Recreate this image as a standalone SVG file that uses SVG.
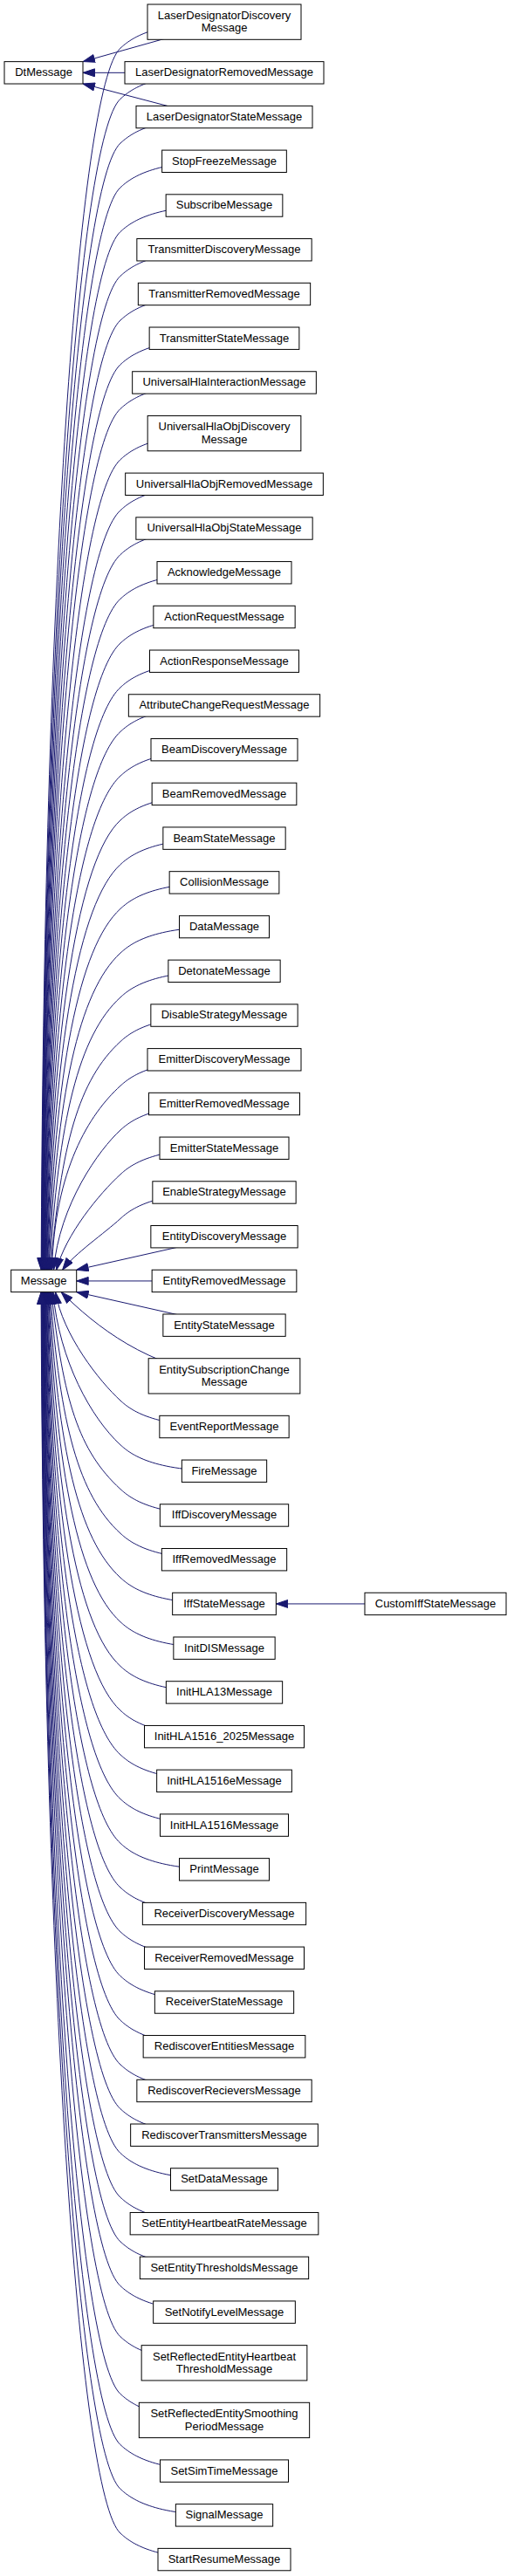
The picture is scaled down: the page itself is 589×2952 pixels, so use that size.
<svg xmlns="http://www.w3.org/2000/svg" width="589" height="2952" viewBox="0 0 589 2952">
<defs>
<style>
.n rect{fill:#fff;stroke:#000;stroke-width:1}
.n text{font-family:"Liberation Sans",Arial,sans-serif;font-size:13px;text-anchor:middle;fill:#000}
</style>
<marker id="arr" viewBox="0 0 14 10" markerWidth="14" markerHeight="10" refX="14" refY="5" orient="auto" markerUnits="userSpaceOnUse"><path d="M0.5,0.5 L14,5 L0.5,9.5 Z" fill="#191970" stroke="#191970" stroke-width="1"/></marker>
</defs>
<rect width="589" height="2952" fill="#fff"/>
<g id="connectors" fill="none" stroke="#191970" stroke-width="1" marker-end="url(#arr)">
<path d="M257,25.15 L95,70.63"/>
<path d="M143,83.33 L95,83.33"/>
<path d="M191.7,121.36 L95,96.03"/>
<path d="M257,25.15 C175,25.15 150,44.15 138,55.15 C90,99.15 49.6,685.2 47.2,1455.24"/>
<path d="M257,83.33 C175,83.33 150,102.33 138,113.33 C90,157.33 50.2,717.2 47.6,1455.24"/>
<path d="M257,134.06 C175,134.06 150,153.06 138,164.06 C90,208.06 50.5,745.1 47.9,1455.24"/>
<path d="M257,184.79 C175,184.79 150,203.79 138,214.79 C90,258.79 51,773 48.2,1455.24"/>
<path d="M257,235.52 C175,235.52 150,254.52 138,265.52 C90,309.52 51.5,800.9 48.6,1455.24"/>
<path d="M257,286.25 C175,286.25 150,305.25 138,316.25 C90,360.25 51.9,828.8 48.9,1455.24"/>
<path d="M257,336.98 C175,336.98 150,355.98 138,366.98 C90,410.98 52.4,856.7 49.3,1455.24"/>
<path d="M257,387.71 C175,387.71 150,406.71 138,417.71 C90,461.71 52.9,884.6 49.6,1455.24"/>
<path d="M257,438.44 C175,438.44 150,457.44 138,468.44 C90,512.44 53.4,912.5 50,1455.24"/>
<path d="M257,496.62 C175,496.62 150,515.62 138,526.62 C90,570.62 54.1,944.5 50.4,1455.24"/>
<path d="M257,554.8 C175,554.8 150,573.8 138,584.8 C90,628.8 54.7,976.5 50.8,1455.24"/>
<path d="M257,605.53 C175,605.53 150,624.53 138,635.53 C90,679.53 55.3,1004.4 51.2,1455.24"/>
<path d="M257,656.26 C175,656.26 150,675.26 138,686.26 C90,730.26 56,1032.3 51.6,1455.24"/>
<path d="M257,706.99 C175,706.99 150,725.99 138,736.99 C90,780.99 56.7,1060.2 52,1455.24"/>
<path d="M257,757.72 C175,757.72 150,776.72 138,787.72 C90,831.72 57.4,1088.1 52.4,1455.24"/>
<path d="M257,808.45 C175,808.45 150,827.45 138,838.45 C90,882.45 58.3,1116 52.9,1455.24"/>
<path d="M257,859.18 C175,859.18 150,878.18 138,889.18 C90,933.18 59.3,1143.9 53.4,1455.24"/>
<path d="M257,909.91 C175,909.91 150,928.91 138,939.91 C90,983.91 60.3,1171.8 53.9,1455.24"/>
<path d="M257,960.64 C175,960.64 150,979.64 138,990.64 C90,1034.64 61.6,1199.7 54.5,1455.24"/>
<path d="M257,1011.37 C175,1011.37 150,1030.37 138,1041.37 C90,1085.37 63.1,1227.6 55.2,1455.24"/>
<path d="M257,1062.1 C175,1062.1 150,1081.1 138,1092.1 C90,1136.1 64.8,1255.5 55.9,1455.24"/>
<path d="M257,1112.83 C175,1112.83 150,1131.83 138,1142.83 C90,1186.83 67,1283.4 56.8,1455.24"/>
<path d="M257,1163.56 C175,1163.56 150,1182.56 138,1193.56 C90,1237.56 69.9,1311.3 57.9,1455.24"/>
<path d="M257,1214.29 C175,1214.29 150,1233.29 138,1244.29 C102,1277 63,1340 59.3,1455.24"/>
<path d="M257,1265.02 C175,1265.02 150,1284.02 138,1295.02 C114,1317 68,1380 61.4,1455.24"/>
<path d="M257,1315.75 C175,1315.75 150,1334.75 138,1345.75 C114,1367.75 75,1415 64.7,1455.24"/>
<path d="M257,1366.48 C175,1366.48 150,1385.48 138,1396.48 C120,1413 85,1437 71.6,1455.24"/>
<path d="M257,1417.21 L87.7,1455.24"/>
<path d="M174.15,1467.94 L87.7,1467.94"/>
<path d="M257,1518.67 L87.7,1480.64"/>
<path d="M257,1576.85 C170,1568 110,1520 70.1,1480.64"/>
<path d="M257,1635.03 C175,1635.03 150,1616.03 138,1605.03 C114,1583 72,1530 63.5,1480.64"/>
<path d="M257,1685.76 C175,1685.76 150,1666.76 138,1655.76 C105,1625.5 68,1560 60.7,1480.64"/>
<path d="M257,1736.49 C175,1736.49 150,1717.49 138,1706.49 C90,1662.49 72.5,1604.9 58.8,1480.64"/>
<path d="M257,1787.22 C175,1787.22 150,1768.22 138,1757.22 C90,1713.22 68.9,1632.8 57.5,1480.64"/>
<path d="M257,1837.95 C175,1837.95 150,1818.95 138,1807.95 C90,1763.95 66.3,1660.7 56.5,1480.64"/>
<path d="M257,1888.68 C175,1888.68 150,1869.68 138,1858.68 C90,1814.68 64.3,1688.5 55.7,1480.64"/>
<path d="M257,1939.41 C175,1939.41 150,1920.41 138,1909.41 C90,1865.41 62.6,1716.5 55,1480.64"/>
<path d="M257,1990.14 C175,1990.14 150,1971.14 138,1960.14 C90,1916.14 61.2,1744.4 54.3,1480.64"/>
<path d="M257,2040.87 C175,2040.87 150,2021.87 138,2010.87 C90,1966.87 60,1772.2 53.8,1480.64"/>
<path d="M257,2091.6 C175,2091.6 150,2072.6 138,2061.6 C90,2017.6 59,1800.2 53.3,1480.64"/>
<path d="M257,2142.33 C175,2142.33 150,2123.33 138,2112.33 C90,2068.33 58.1,1828.1 52.8,1480.64"/>
<path d="M257,2193.06 C175,2193.06 150,2174.06 138,2163.06 C90,2119.06 57.2,1855.9 52.3,1480.64"/>
<path d="M257,2243.79 C175,2243.79 150,2224.79 138,2213.79 C90,2169.79 56.5,1883.9 51.9,1480.64"/>
<path d="M257,2294.52 C175,2294.52 150,2275.52 138,2264.52 C90,2220.52 55.8,1911.8 51.5,1480.64"/>
<path d="M257,2345.25 C175,2345.25 150,2326.25 138,2315.25 C90,2271.25 55.1,1939.7 51.1,1480.64"/>
<path d="M257,2395.98 C175,2395.98 150,2376.98 138,2365.98 C90,2321.98 54.5,1967.5 50.7,1480.64"/>
<path d="M257,2446.71 C175,2446.71 150,2427.71 138,2416.71 C90,2372.71 53.9,1995.5 50.3,1480.64"/>
<path d="M257,2497.44 C175,2497.44 150,2478.44 138,2467.44 C90,2423.44 53.4,2023.4 50,1480.64"/>
<path d="M257,2548.17 C175,2548.17 150,2529.17 138,2518.17 C90,2474.17 52.9,2051.3 49.6,1480.64"/>
<path d="M257,2598.9 C175,2598.9 150,2579.9 138,2568.9 C90,2524.9 52.4,2079.2 49.3,1480.64"/>
<path d="M257,2649.63 C175,2649.63 150,2630.63 138,2619.63 C90,2575.63 51.9,2107.1 48.9,1480.64"/>
<path d="M257,2707.81 C175,2707.81 150,2688.81 138,2677.81 C90,2633.81 51.4,2139.1 48.5,1480.64"/>
<path d="M257,2773.44 C175,2773.44 150,2754.44 138,2743.44 C90,2699.44 50.8,2175.2 48.1,1480.64"/>
<path d="M257,2831.62 C175,2831.62 150,2812.62 138,2801.62 C90,2757.62 50.3,2207.2 47.7,1480.64"/>
<path d="M257,2882.35 C175,2882.35 150,2863.35 138,2852.35 C90,2808.35 49.9,2235 47.4,1480.64"/>
<path d="M257,2933.08 C175,2933.08 150,2914.08 138,2903.08 C90,2859.08 49.5,2262.9 47.1,1480.64"/>
<path d="M418,1837.95 L316.35,1837.95"/>
</g>
<g id="nodes">
<g id="DtMessage" class="n"><rect x="5" y="70.63" width="90" height="25.4"/><text x="50" y="87.23">DtMessage</text></g>
<g id="Message" class="n"><rect x="12.7" y="1455.24" width="75" height="25.4"/><text x="50.2" y="1471.84">Message</text></g>
<g id="CustomIffStateMessage" class="n"><rect x="418" y="1825.25" width="162" height="25.4"/><text x="499" y="1841.85">CustomIffStateMessage</text></g>
<g id="LaserDesignatorDiscoveryMessage" class="n"><rect x="169" y="5" width="176" height="40.3"/><text x="257" y="21.9">LaserDesignatorDiscovery</text><text x="257" y="36.4">Message</text></g>
<g id="LaserDesignatorRemovedMessage" class="n"><rect x="143" y="70.63" width="228" height="25.4"/><text x="257" y="87.23">LaserDesignatorRemovedMessage</text></g>
<g id="LaserDesignatorStateMessage" class="n"><rect x="156" y="121.36" width="202" height="25.4"/><text x="257" y="137.96">LaserDesignatorStateMessage</text></g>
<g id="StopFreezeMessage" class="n"><rect x="185.65" y="172.09" width="142.7" height="25.4"/><text x="257" y="188.69">StopFreezeMessage</text></g>
<g id="SubscribeMessage" class="n"><rect x="190.15" y="222.82" width="133.7" height="25.4"/><text x="257" y="239.42">SubscribeMessage</text></g>
<g id="TransmitterDiscoveryMessage" class="n"><rect x="156.85" y="273.55" width="200.3" height="25.4"/><text x="257" y="290.15">TransmitterDiscoveryMessage</text></g>
<g id="TransmitterRemovedMessage" class="n"><rect x="158.35" y="324.28" width="197.3" height="25.4"/><text x="257" y="340.88">TransmitterRemovedMessage</text></g>
<g id="TransmitterStateMessage" class="n"><rect x="171.15" y="375.01" width="171.7" height="25.4"/><text x="257" y="391.61">TransmitterStateMessage</text></g>
<g id="UniversalHlaInteractionMessage" class="n"><rect x="151.65" y="425.74" width="210.7" height="25.4"/><text x="257" y="442.34">UniversalHlaInteractionMessage</text></g>
<g id="UniversalHlaObjDiscoveryMessage" class="n"><rect x="169.15" y="476.47" width="175.7" height="40.3"/><text x="257" y="493.37">UniversalHlaObjDiscovery</text><text x="257" y="507.87">Message</text></g>
<g id="UniversalHlaObjRemovedMessage" class="n"><rect x="143.65" y="542.1" width="226.7" height="25.4"/><text x="257" y="558.7">UniversalHlaObjRemovedMessage</text></g>
<g id="UniversalHlaObjStateMessage" class="n"><rect x="155.85" y="592.83" width="202.3" height="25.4"/><text x="257" y="609.43">UniversalHlaObjStateMessage</text></g>
<g id="AcknowledgeMessage" class="n"><rect x="180" y="643.56" width="154" height="25.4"/><text x="257" y="660.16">AcknowledgeMessage</text></g>
<g id="ActionRequestMessage" class="n"><rect x="175.85" y="694.29" width="162.3" height="25.4"/><text x="257" y="710.89">ActionRequestMessage</text></g>
<g id="ActionResponseMessage" class="n"><rect x="171.5" y="745.02" width="171" height="25.4"/><text x="257" y="761.62">ActionResponseMessage</text></g>
<g id="AttributeChangeRequestMessage" class="n"><rect x="147.35" y="795.75" width="219.3" height="25.4"/><text x="257" y="812.35">AttributeChangeRequestMessage</text></g>
<g id="BeamDiscoveryMessage" class="n"><rect x="173" y="846.48" width="168" height="25.4"/><text x="257" y="863.08">BeamDiscoveryMessage</text></g>
<g id="BeamRemovedMessage" class="n"><rect x="174.15" y="897.21" width="165.7" height="25.4"/><text x="257" y="913.81">BeamRemovedMessage</text></g>
<g id="BeamStateMessage" class="n"><rect x="186.85" y="947.94" width="140.3" height="25.4"/><text x="257" y="964.54">BeamStateMessage</text></g>
<g id="CollisionMessage" class="n"><rect x="194.15" y="998.67" width="125.7" height="25.4"/><text x="257" y="1015.27">CollisionMessage</text></g>
<g id="DataMessage" class="n"><rect x="205.5" y="1049.4" width="103" height="25.4"/><text x="257" y="1066">DataMessage</text></g>
<g id="DetonateMessage" class="n"><rect x="192.85" y="1100.13" width="128.3" height="25.4"/><text x="257" y="1116.73">DetonateMessage</text></g>
<g id="DisableStrategyMessage" class="n"><rect x="172.85" y="1150.86" width="168.3" height="25.4"/><text x="257" y="1167.46">DisableStrategyMessage</text></g>
<g id="EmitterDiscoveryMessage" class="n"><rect x="169" y="1201.59" width="176" height="25.4"/><text x="257" y="1218.19">EmitterDiscoveryMessage</text></g>
<g id="EmitterRemovedMessage" class="n"><rect x="170.5" y="1252.32" width="173" height="25.4"/><text x="257" y="1268.92">EmitterRemovedMessage</text></g>
<g id="EmitterStateMessage" class="n"><rect x="183" y="1303.05" width="148" height="25.4"/><text x="257" y="1319.65">EmitterStateMessage</text></g>
<g id="EnableStrategyMessage" class="n"><rect x="174.85" y="1353.78" width="164.3" height="25.4"/><text x="257" y="1370.38">EnableStrategyMessage</text></g>
<g id="EntityDiscoveryMessage" class="n"><rect x="172.85" y="1404.51" width="168.3" height="25.4"/><text x="257" y="1421.11">EntityDiscoveryMessage</text></g>
<g id="EntityRemovedMessage" class="n"><rect x="174.15" y="1455.24" width="165.7" height="25.4"/><text x="257" y="1471.84">EntityRemovedMessage</text></g>
<g id="EntityStateMessage" class="n"><rect x="186.85" y="1505.97" width="140.3" height="25.4"/><text x="257" y="1522.57">EntityStateMessage</text></g>
<g id="EntitySubscriptionChangeMessage" class="n"><rect x="170.15" y="1556.7" width="173.7" height="40.3"/><text x="257" y="1573.6">EntitySubscriptionChange</text><text x="257" y="1588.1">Message</text></g>
<g id="EventReportMessage" class="n"><rect x="182.85" y="1622.33" width="148.3" height="25.4"/><text x="257" y="1638.93">EventReportMessage</text></g>
<g id="FireMessage" class="n"><rect x="208.35" y="1673.06" width="97.3" height="25.4"/><text x="257" y="1689.66">FireMessage</text></g>
<g id="IffDiscoveryMessage" class="n"><rect x="183.35" y="1723.79" width="147.3" height="25.4"/><text x="257" y="1740.39">IffDiscoveryMessage</text></g>
<g id="IffRemovedMessage" class="n"><rect x="185.35" y="1774.52" width="143.3" height="25.4"/><text x="257" y="1791.12">IffRemovedMessage</text></g>
<g id="IffStateMessage" class="n"><rect x="197.65" y="1825.25" width="118.7" height="25.4"/><text x="257" y="1841.85">IffStateMessage</text></g>
<g id="InitDISMessage" class="n"><rect x="198.85" y="1875.98" width="116.3" height="25.4"/><text x="257" y="1892.58">InitDISMessage</text></g>
<g id="InitHLA13Message" class="n"><rect x="190.35" y="1926.71" width="133.3" height="25.4"/><text x="257" y="1943.31">InitHLA13Message</text></g>
<g id="InitHLA1516_2025Message" class="n"><rect x="165.5" y="1977.44" width="183" height="25.4"/><text x="257" y="1994.04">InitHLA1516_2025Message</text></g>
<g id="InitHLA1516eMessage" class="n"><rect x="179.65" y="2028.17" width="154.7" height="25.4"/><text x="257" y="2044.77">InitHLA1516eMessage</text></g>
<g id="InitHLA1516Message" class="n"><rect x="183.5" y="2078.9" width="147" height="25.4"/><text x="257" y="2095.5">InitHLA1516Message</text></g>
<g id="PrintMessage" class="n"><rect x="205.5" y="2129.63" width="103" height="25.4"/><text x="257" y="2146.23">PrintMessage</text></g>
<g id="ReceiverDiscoveryMessage" class="n"><rect x="163.35" y="2180.36" width="187.3" height="25.4"/><text x="257" y="2196.96">ReceiverDiscoveryMessage</text></g>
<g id="ReceiverRemovedMessage" class="n"><rect x="165.5" y="2231.09" width="183" height="25.4"/><text x="257" y="2247.69">ReceiverRemovedMessage</text></g>
<g id="ReceiverStateMessage" class="n"><rect x="177.35" y="2281.82" width="159.3" height="25.4"/><text x="257" y="2298.42">ReceiverStateMessage</text></g>
<g id="RediscoverEntitiesMessage" class="n"><rect x="164.15" y="2332.55" width="185.7" height="25.4"/><text x="257" y="2349.15">RediscoverEntitiesMessage</text></g>
<g id="RediscoverRecieversMessage" class="n"><rect x="156.85" y="2383.28" width="200.3" height="25.4"/><text x="257" y="2399.88">RediscoverRecieversMessage</text></g>
<g id="RediscoverTransmittersMessage" class="n"><rect x="149.65" y="2434.01" width="214.7" height="25.4"/><text x="257" y="2450.61">RediscoverTransmittersMessage</text></g>
<g id="SetDataMessage" class="n"><rect x="195.5" y="2484.74" width="123" height="25.4"/><text x="257" y="2501.34">SetDataMessage</text></g>
<g id="SetEntityHeartbeatRateMessage" class="n"><rect x="149.15" y="2535.47" width="215.7" height="25.4"/><text x="257" y="2552.07">SetEntityHeartbeatRateMessage</text></g>
<g id="SetEntityThresholdsMessage" class="n"><rect x="160.35" y="2586.2" width="193.3" height="25.4"/><text x="257" y="2602.8">SetEntityThresholdsMessage</text></g>
<g id="SetNotifyLevelMessage" class="n"><rect x="175.65" y="2636.93" width="162.7" height="25.4"/><text x="257" y="2653.53">SetNotifyLevelMessage</text></g>
<g id="SetReflectedEntityHeartbeatThresholdMessage" class="n"><rect x="162.15" y="2687.66" width="189.7" height="40.3"/><text x="257" y="2704.56">SetReflectedEntityHeartbeat</text><text x="257" y="2719.06">ThresholdMessage</text></g>
<g id="SetReflectedEntitySmoothingPeriodMessage" class="n"><rect x="159.35" y="2753.29" width="195.3" height="40.3"/><text x="257" y="2770.19">SetReflectedEntitySmoothing</text><text x="257" y="2784.69">PeriodMessage</text></g>
<g id="SetSimTimeMessage" class="n"><rect x="183.5" y="2818.92" width="147" height="25.4"/><text x="257" y="2835.52">SetSimTimeMessage</text></g>
<g id="SignalMessage" class="n"><rect x="201.35" y="2869.65" width="111.3" height="25.4"/><text x="257" y="2886.25">SignalMessage</text></g>
<g id="StartResumeMessage" class="n"><rect x="181" y="2920.38" width="152" height="25.4"/><text x="257" y="2936.98">StartResumeMessage</text></g>
</g>
</svg>
